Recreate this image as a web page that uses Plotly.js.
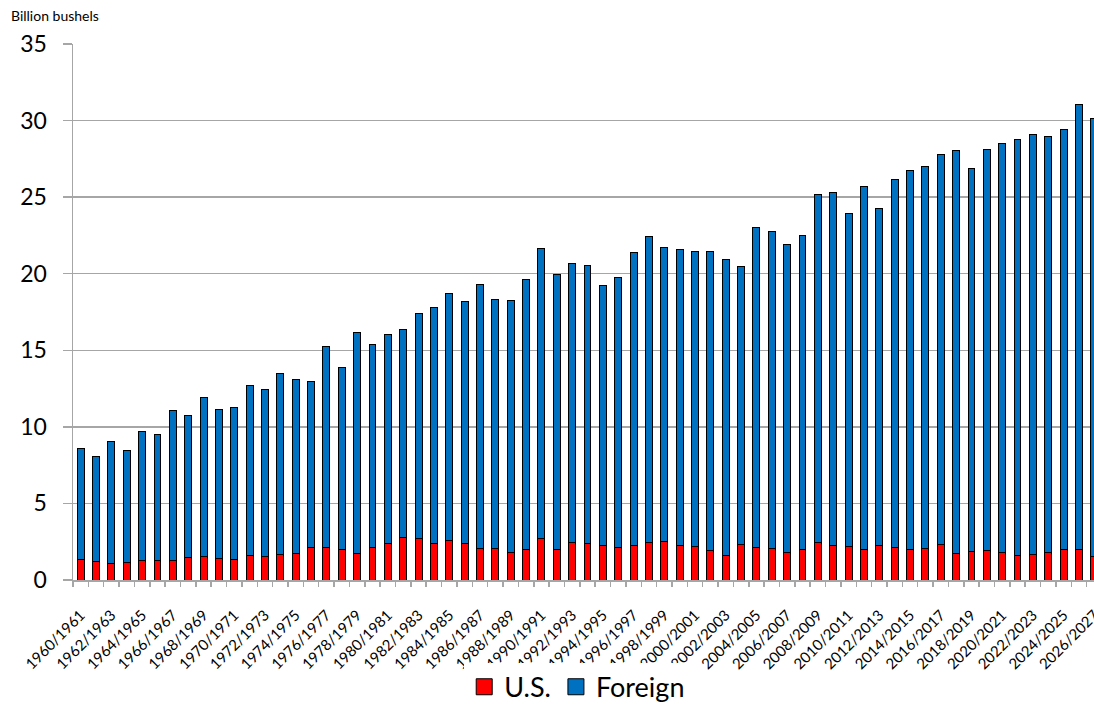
<!DOCTYPE html>
<html>
<head>
<meta charset="utf-8">
<script src="https://cdn.plot.ly/plotly-3.0.1.min.js"></script>
<style>
html, body { margin:0; padding:0; overflow:hidden; background:#fff; }
#chart { width:1110px; height:704px; }
</style>
</head>
<body>
<div id="chart"></div>
<script>
const seasons = [
"1960/1961","1961/1962","1962/1963","1963/1964","1964/1965","1965/1966","1966/1967","1967/1968",
"1968/1969","1969/1970","1970/1971","1971/1972","1972/1973","1973/1974","1974/1975","1975/1976",
"1976/1977","1977/1978","1978/1979","1979/1980","1980/1981","1981/1982","1982/1983","1983/1984",
"1984/1985","1985/1986","1986/1987","1987/1988","1988/1989","1989/1990","1990/1991","1991/1992",
"1992/1993","1993/1994","1994/1995","1995/1996","1996/1997","1997/1998","1998/1999","1999/2000",
"2000/2001","2001/2002","2002/2003","2003/2004","2004/2005","2005/2006","2006/2007","2007/2008",
"2008/2009","2009/2010","2010/2011","2011/2012","2012/2013","2013/2014","2014/2015","2015/2016",
"2016/2017","2017/2018","2018/2019","2019/2020","2020/2021","2021/2022","2022/2023","2023/2024",
"2024/2025","2025/2026","2026/2027"];

const usValues = [
1.32,1.19,1.08,1.13,1.26,1.26,1.30,1.45,1.52,1.41,1.32,1.59,1.52,1.69,1.74,2.10,
2.11,2.02,1.74,2.09,2.37,2.78,2.74,2.39,2.56,2.39,2.06,2.06,1.80,2.02,2.69,1.96,
2.45,2.37,2.28,2.15,2.26,2.43,2.52,2.26,2.22,1.93,1.57,2.30,2.09,2.04,1.78,2.00,
2.48,2.24,2.17,1.96,2.26,2.11,1.98,2.06,2.30,1.74,1.87,1.91,1.80,1.61,1.65,1.80,
1.98,1.98,1.52];

const foreignValues = [
7.24,6.87,7.96,7.33,8.46,8.26,9.74,9.29,10.39,9.74,9.96,11.08,10.89,11.77,11.33,10.85,
13.11,11.87,14.39,13.26,13.65,13.57,14.63,15.42,16.16,15.81,17.22,16.27,16.42,17.57,18.94,18.02,
18.23,18.18,16.96,17.59,19.11,20.01,19.18,19.33,19.22,19.53,19.37,18.14,20.96,20.70,20.16,20.50,
22.68,23.04,21.74,23.74,22.01,24.07,24.74,24.97,25.51,26.31,25.03,26.20,26.70,27.13,27.42,27.14,
27.46,29.07,28.59];

const seriesNames = ["U.S.", "Foreign"];
const seriesColors = ["#FF0000", "#0070C0"];

// show every other season label
const tickLabels = seasons.map((s, i) => (i % 2 === 0 ? s : ""));

const FONT = "Lato, 'Open Sans', sans-serif";

const traces = [
  {
    type: "bar", x: seasons, y: usValues, name: seriesNames[0], showlegend: false,
    marker: { color: seriesColors[0], line: { color: "#000", width: 1 } }
  },
  {
    type: "bar", x: seasons, y: foreignValues, name: seriesNames[1], showlegend: false,
    marker: { color: seriesColors[1], line: { color: "#000", width: 1 } }
  },
  {
    type: "scatter", mode: "markers", x: [null], y: [null], name: seriesNames[0],
    marker: { symbol: "square", size: 16, color: seriesColors[0], line: { color: "#000", width: 1 } },
    hoverinfo: "skip"
  },
  {
    type: "scatter", mode: "markers", x: [null], y: [null], name: seriesNames[1],
    marker: { symbol: "square", size: 16, color: seriesColors[1], line: { color: "#000", width: 1 } },
    hoverinfo: "skip"
  }
];

const layout = {
  width: 1110, height: 704,
  margin: { l: 73, r: 8, t: 44, b: 124, autoexpand: false },
  paper_bgcolor: "#fff", plot_bgcolor: "#fff",
  barmode: "stack", bargap: 0.55,
  font: { family: FONT, color: "#000" },
  showlegend: true,
  legend: {
    orientation: "h", x: 0.49, xanchor: "center", y: -0.2, yanchor: "middle",
    font: { family: FONT, size: 27, color: "#000" },
    traceorder: "normal"
  },
  xaxis: {
    type: "category", automargin: false,
    categoryorder: "array", categoryarray: seasons,
    range: [-0.5, seasons.length - 0.5],
    tickmode: "array", tickvals: seasons, ticktext: tickLabels,
    tickson: "boundaries",
    ticks: "outside", ticklen: 5, tickcolor: "#a6a6a6", tickwidth: 1.5,
    ticklabelstandoff: 19,
    tickangle: -45,
    tickfont: { family: FONT, size: 15, color: "#000" },
    showline: true, linecolor: "#a6a6a6", linewidth: 1.5,
    showgrid: false, zeroline: false, fixedrange: true
  },
  yaxis: {
    range: [0, 35], dtick: 5, tick0: 0, automargin: false,
    ticks: "outside", ticklen: 9, tickcolor: "#a6a6a6", tickwidth: 1.5,
    ticklabelstandoff: 11,
    tickfont: { family: FONT, size: 23, color: "#000" },
    showline: true, linecolor: "#a6a6a6", linewidth: 1.5,
    showgrid: true, gridcolor: "#a6a6a6", gridwidth: 1.5,
    zeroline: false, fixedrange: true
  },
  annotations: [
    {
      text: "Billion bushels", xref: "paper", yref: "paper",
      x: -0.062, y: 1.0, xanchor: "left", yanchor: "bottom", yshift: 18,
      showarrow: false, font: { family: FONT, size: 14, color: "#000" }
    }
  ]
};

Plotly.newPlot("chart", traces, layout, { displayModeBar: false, staticPlot: true, responsive: false });
</script>
</body>
</html>
